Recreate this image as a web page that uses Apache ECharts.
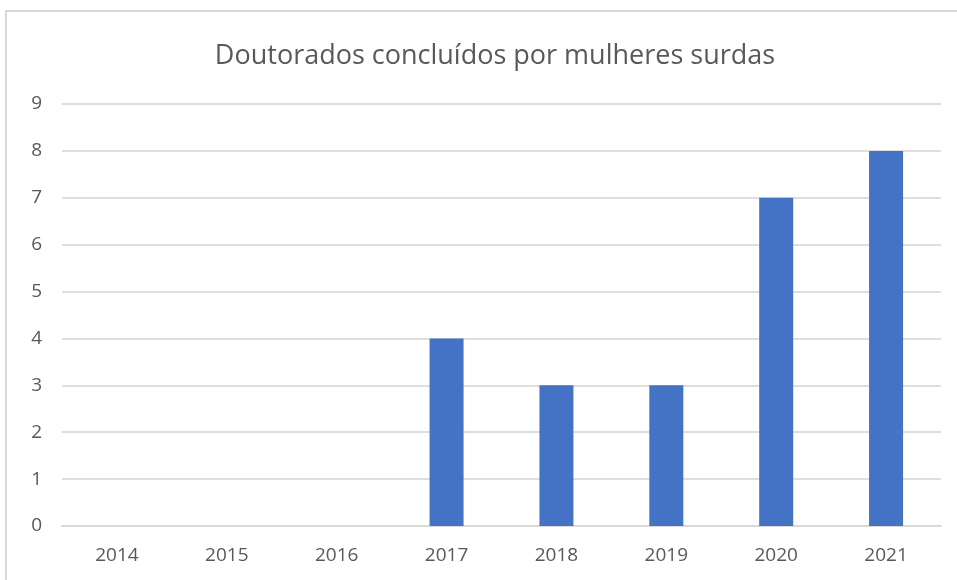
<!DOCTYPE html>
<html>
<head>
<meta charset="utf-8">
<script src="https://cdn.jsdelivr.net/npm/echarts@6/dist/echarts.min.js"></script>
<style>
  html, body { margin: 0; padding: 0; background: #fff; }
  #chart { width: 957px; height: 580px; }
</style>
</head>
<body>
<div id="chart"></div>
<script>
const years = ['2014', '2015', '2016', '2017', '2018', '2019', '2020', '2021'];
const doutorados = [0, 0, 0, 4, 3, 3, 7, 8];

const chart = echarts.init(document.getElementById('chart'));
const textColor = '#595959';

const option = {
    animation: false,
    textStyle: { fontFamily: 'Open Sans' },
    title: {
        text: 'Doutorados concluídos por mulheres surdas',
        left: 490,
        textAlign: 'center',
        top: 38,
        textStyle: {
            color: textColor,
            fontSize: 27,
            fontWeight: 'normal',
            fontFamily: 'Open Sans'
        }
    },
    graphic: [{
        type: 'rect',
        shape: { x: 6, y: 11, width: 1000, height: 600 },
        style: { fill: 'none', stroke: '#d9d9d9', lineWidth: 2 },
        silent: true
    }],
    grid: {
        left: 62,
        right: 16,
        top: 104,
        bottom: 54
    },
    xAxis: {
        type: 'category',
        data: years,
        axisLine: { lineStyle: { color: '#d9d9d9', width: 2 } },
        axisTick: { show: false },
        axisLabel: { color: textColor, fontSize: 19, margin: 20 }
    },
    yAxis: {
        type: 'value',
        min: 0,
        max: 9,
        interval: 1,
        axisLine: { show: false },
        axisTick: { show: false },
        splitLine: { lineStyle: { color: '#dedede', width: 2 } },
        axisLabel: { color: textColor, fontSize: 19, margin: 20 }
    },
    series: [{
        type: 'bar',
        data: doutorados,
        barWidth: 34,
        itemStyle: { color: '#4472c4' }
    }]
};

chart.setOption(option);
</script>
</body>
</html>
